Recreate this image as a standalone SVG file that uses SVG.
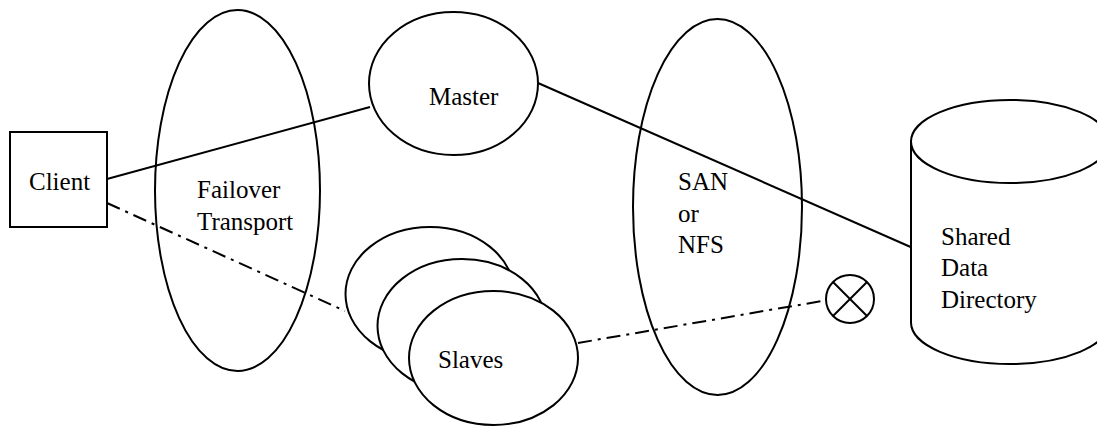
<svg xmlns="http://www.w3.org/2000/svg" width="1097" height="427" viewBox="0 0 1097 427">
  <rect width="1097" height="427" fill="#fff"/>

  <!-- shared look: black 2px outlines, white fills, serif labels -->
  <g stroke="#000" stroke-width="2" fill="#fff" font-family="Liberation Serif, serif" font-size="25">

    <!-- transport / storage layers (drawn behind links) -->
    <g id="failover">
      <ellipse fill="none" cx="237.5" cy="190.5" rx="82.5" ry="180.5"/>
      <g stroke="none" fill="#000">
        <text x="197" y="198">Failover</text>
        <text x="197" y="230">Transport</text>
      </g>
    </g>
    <g id="san">
      <ellipse fill="none" cx="717.5" cy="207" rx="84.5" ry="188"/>
      <g stroke="none" fill="#000">
        <text x="678" y="190">SAN</text>
        <text x="678" y="222">or</text>
        <text x="678" y="253">NFS</text>
      </g>
    </g>

    <!-- connectors -->
    <g id="connectors" fill="none">
      <line x1="107" y1="179" x2="370" y2="107"/>
      <line x1="538" y1="83" x2="922" y2="252"/>
      <g stroke-dasharray="14 6 3 6">
        <line x1="107" y1="203" x2="345" y2="311"/>
        <line x1="578" y1="343" x2="822" y2="301"/>
      </g>
    </g>

    <g id="client">
      <rect x="10" y="132" width="97" height="95"/>
      <text x="29" y="190" stroke="none" fill="#000">Client</text>
    </g>

    <g id="master">
      <ellipse cx="453.5" cy="83.5" rx="84.5" ry="71.5"/>
      <text x="429" y="105" stroke="none" fill="#000">Master</text>
    </g>

    <g id="slaves">
      <ellipse cx="430" cy="294" rx="84.5" ry="67"/>
      <ellipse cx="462" cy="326" rx="84.5" ry="67"/>
      <ellipse cx="493.5" cy="358" rx="84.5" ry="67"/>
      <text x="438" y="368" stroke="none" fill="#000">Slaves</text>
    </g>

    <g id="blocked">
      <circle cx="850" cy="299" r="24"/>
      <line x1="833" y1="282" x2="867" y2="316"/>
      <line x1="867" y1="282" x2="833" y2="316"/>
    </g>

    <g id="shared-data">
      <path d="M911,141.5 L911,322.5 A99,41.5 0 0 0 1109,322.5 L1109,141.5 Z"/>
      <ellipse cx="1010" cy="141.5" rx="99" ry="41.5"/>
      <g stroke="none" fill="#000">
        <text x="941" y="245">Shared</text>
        <text x="941" y="276">Data</text>
        <text x="941" y="308">Directory</text>
      </g>
    </g>
  </g>
</svg>
